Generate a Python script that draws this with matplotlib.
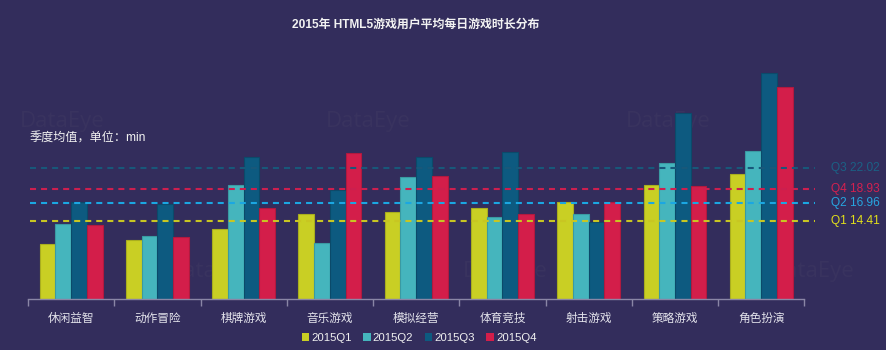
import matplotlib
matplotlib.use("Agg")
import matplotlib.pyplot as plt
from matplotlib.patches import Patch
import numpy as np

plt.rcParams['font.family'] = ['Liberation Sans', 'Noto Sans CJK SC', 'DejaVu Sans']

categories = ["休闲益智", "动作冒险", "棋牌游戏", "音乐游戏", "模拟经营",
              "体育竞技", "射击游戏", "策略游戏", "角色扮演"]
series_names = ["2015Q1", "2015Q2", "2015Q3", "2015Q4"]
q1 = [11.03, 11.61, 13.24, 15.35, 15.64, 16.21, 17.16, 19.61, 21.11]
q2 = [13.91, 12.23, 19.52, 11.18, 20.76, 14.92, 15.35, 22.69, 24.41]
q3 = [17.16, 16.79, 23.55, 18.85, 23.59, 24.27, 14.29, 29.88, 35.64]
q4 = [13.77, 12.08, 16.21, 24.17, 20.86, 15.39, 17.08, 19.47, 33.66]
avg_labels = ["Q3", "Q4", "Q2", "Q1"]
avg_values = [22.02, 18.93, 16.96, 14.41]

bg = "#332d5c"
bar_colors = ["#c9cf24", "#45b5bd", "#0d5a80", "#d31e4a"]
edge_colors = ["#a9ae1e", "#3a9aa2", "#0b4a6a", "#b01a3f"]
avg_line_colors = ["#18587a", "#cc1f4f", "#1ba7e2", "#c8c622"]
avg_text_colors = ["#1b6185", "#d42150", "#27a6e0", "#e2df1a"]

W, H = 886, 350
fig = plt.figure(figsize=(W / 100, H / 100), dpi=100, facecolor=bg)

# axes geometry in pixels
left_px, right_px = 28, 815
bottom_px, top_px = 299.3, 60
ax = fig.add_axes([left_px / W, (H - bottom_px) / H,
                   (right_px - left_px) / W, (bottom_px - top_px) / H])
ax.set_facecolor(bg)
ax.patch.set_alpha(0)

n = len(categories)
cat_w = (804.3 - 28) / n
x_right = 8.5 + (right_px - 804.3) / cat_w
ax.set_xlim(-0.5, x_right)
ax.set_ylim(3.12, 37.55)

# faint watermarks behind the bars
wm_color = "#39335f"
for (xp, yp) in [(62, 122), (368, 122), (668, 122), (210, 272), (505, 272), (812, 272)]:
    ax.text(xp / W, 1 - yp / H, "DataEye", color=wm_color, fontsize=16,
            ha="center", va="center", family=["Open Sans", "DejaVu Sans"],
            transform=fig.transFigure, zorder=0.5, clip_on=False)

bw = 0.182
x = np.arange(n)
all_series = [q1, q2, q3, q4]
for i, vals in enumerate(all_series):
    offs = (i - 1.5) * bw
    ax.bar(x + offs, vals, width=bw, bottom=0, color=bar_colors[i],
           edgecolor=edge_colors[i], linewidth=0.8, zorder=2)

# quarterly average reference lines
x0 = -0.5 + (30 - left_px) / cat_w
for lab, val, lc, tc in zip(avg_labels, avg_values, avg_line_colors, avg_text_colors):
    ax.plot([x0, x_right], [val, val], color=lc, lw=1.5,
            dashes=(2.9, 2.4), zorder=3, clip_on=False)
    ax.text(x_right + (831 - right_px) / cat_w, val, f"{lab} {val:.2f}",
            color=tc, fontsize=8.6, va="center", ha="left", clip_on=False)

# axis styling
for s in ["top", "right", "left"]:
    ax.spines[s].set_visible(False)
ax.spines["bottom"].set_color("#8a86a6")
ax.spines["bottom"].set_linewidth(1.0)
ax.spines["bottom"].set_bounds(-0.5, 8.5)
ax.spines["bottom"].set_zorder(4)
ax.set_yticks([])
ax.set_xticks(np.arange(-0.5, n, 1.0))
ax.set_xticklabels([])
ax.tick_params(axis="x", length=5, width=1.0, color="#8a86a6", direction="out")
ax.set_xticks(x, minor=True)
ax.set_xticklabels(categories, minor=True, fontsize=8.4, color="#e4e4ec")
ax.tick_params(axis="x", which="minor", length=0, pad=10)

fig.text(416 / W, 1 - 25 / H, "2015年 HTML5游戏用户平均每日游戏时长分布",
         ha="center", va="center", fontsize=8.6, fontweight="bold", color="#f2f2f2")
fig.text(30 / W, 1 - 139 / H, "季度均值，单位：min", ha="left", va="center",
         fontsize=8.7, color="#f2f2f2")

handles = [Patch(facecolor=c, edgecolor="none") for c in bar_colors]
fig.legend(handles, series_names, loc="center", bbox_to_anchor=(419 / W, 1 - 338 / H),
           ncol=4, frameon=False, fontsize=8.2, labelcolor="#f0f0f0",
           handlelength=0.65, handleheight=0.65, handletextpad=0.2, columnspacing=1.0)

fig.savefig("out.png", dpi=100, facecolor=bg)
